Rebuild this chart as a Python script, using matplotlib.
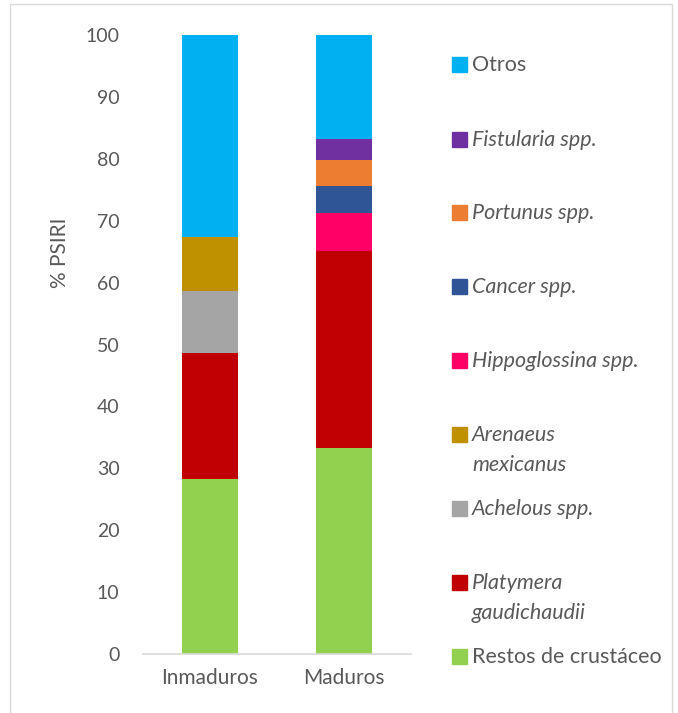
import numpy as np
import matplotlib.pyplot as plt
from matplotlib.patches import Rectangle

plt.rcParams["font.family"] = ["Lato", "DejaVu Sans"]

categories = ["Inmaduros", "Maduros"]

# stacked from bottom to top
series = [
    "Restos de crustáceo",
    "Platymera\ngaudichaudii",
    "Achelous spp.",
    "Arenaeus\nmexicanus",
    "Hippoglossina spp.",
    "Cancer spp.",
    "Portunus spp.",
    "Fistularia spp.",
    "Otros",
]
italic = [False, True, True, True, True, True, True, True, False]
colors = ["#92D050", "#C00000", "#A5A5A5", "#BF9000", "#FF0066",
          "#2F5597", "#ED7D31", "#7030A0", "#00B0F0"]

restos = [28.3, 33.3]
platymera = [20.4, 31.8]
achelous = [10.0, 0.0]
arenaeus = [8.6, 0.0]
hippoglossina = [0.0, 6.1]
cancer = [0.0, 4.4]
portunus = [0.0, 4.2]
fistularia = [0.0, 3.4]
otros = [32.7, 16.8]

values = [restos, platymera, achelous, arenaeus, hippoglossina,
          cancer, portunus, fistularia, otros]

W, H = 678, 713
fig = plt.figure(figsize=(W / 100, H / 100), dpi=100, facecolor="white")
ax = fig.add_axes([143 / W, 1 - 654 / H, (411 - 143) / W, (654 - 35) / H])

x = np.arange(len(categories))
bottom = np.zeros(len(categories))
for vals, col in zip(values, colors):
    v = np.array(vals)
    ax.bar(x, v, width=0.42, bottom=bottom, color=col, linewidth=0, zorder=2)
    bottom += v

ax.set_xlim(-0.5, 1.5)
ax.set_ylim(0, 100)
ax.set_yticks(np.arange(0, 101, 10))
ax.set_xticks(x)
ax.set_xticklabels(categories)
for s in ["top", "right", "left"]:
    ax.spines[s].set_visible(False)
ax.spines["bottom"].set_color("#D9D9D9")
ax.spines["bottom"].set_linewidth(1.2)
ax.tick_params(axis="both", length=0, labelcolor="#595959")
ax.tick_params(axis="y", pad=17, labelsize=14)
ax.tick_params(axis="x", pad=10, labelsize=15)

fig.text(60 / W, 1 - 253 / H, "% PSIRI", rotation=90, ha="center", va="center",
         fontsize=15, color="#595959")

# legend, top to bottom
leg_y = [65, 140, 213, 287, 361, 435, 509, 583, 657]
for i, yy in enumerate(leg_y):
    k = len(series) - 1 - i
    fig.patches.append(Rectangle((452 / W, 1 - (yy + 7) / H), 15 / W, 15 / H,
                                 transform=fig.transFigure, color=colors[k]))
    fig.text(472 / W, 1 - (yy - 10) / H, series[k], ha="left", va="top",
             fontsize=15.5, color="#595959", linespacing=1.62,
             style="italic" if italic[k] else "normal")

# chart border
fig.patches.append(Rectangle((10 / W, -0.01), (672 - 10) / W, 1.01 - 4 / H,
                             transform=fig.transFigure, fill=False,
                             edgecolor="#D9D9D9", linewidth=1))

fig.savefig("out.png", dpi=100)
